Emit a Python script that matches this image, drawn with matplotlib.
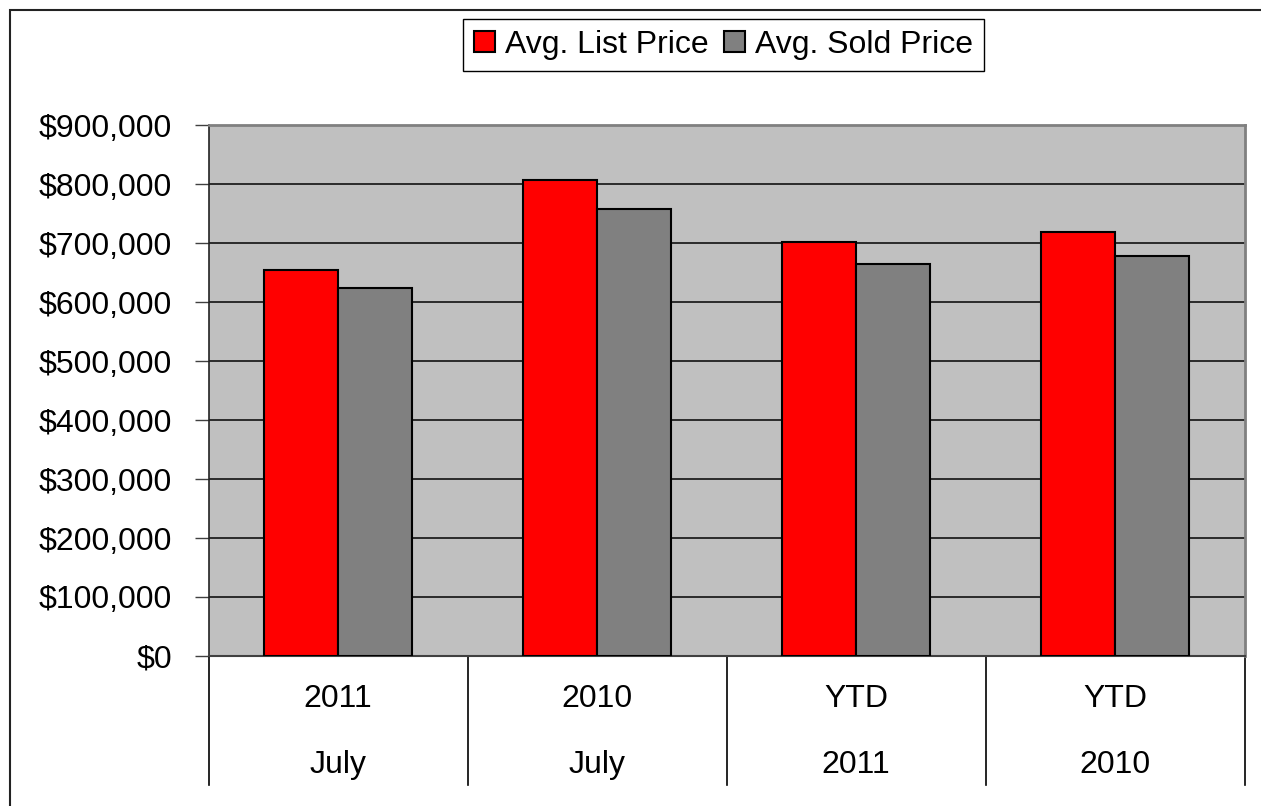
import matplotlib
matplotlib.use("Agg")
import matplotlib.pyplot as plt
from matplotlib.ticker import FuncFormatter
from matplotlib.patches import Rectangle
import matplotlib.transforms as mtransforms

plt.rcParams['font.family'] = ['Liberation Sans', 'DejaVu Sans']

top_labels = ['2011', '2010', 'YTD', 'YTD']
bottom_labels = ['July', 'July', '2011', '2010']
list_price = [654000, 807000, 701000, 719000]
sold_price = [623000, 757000, 664000, 678000]
series_names = ['Avg. List Price', 'Avg. Sold Price']
y_ticks = list(range(0, 900001, 100000))

W, H = 1261, 806
fig = plt.figure(figsize=(W / 100, H / 100), dpi=100)
fig.patch.set_facecolor('white')

# outer frame (clipped at right and bottom)
fig.add_artist(Rectangle((10 / W, -0.05), 1.1, 1 - 10 / H + 0.05, transform=fig.transFigure,
                         fill=False, edgecolor='#222222', linewidth=1.5))

left, right, top, bottom = 208.7, 1244.5, 125, 656
ax = fig.add_axes([left / W, 1 - bottom / H, (right - left) / W, (bottom - top) / H])
ax.set_facecolor('#C0C0C0')

n = len(top_labels)
x = list(range(n))
w = 1 / 3.5
ax.bar([i - w / 2 for i in x], list_price, width=w, color='#FF0000', edgecolor='black',
       linewidth=1.5, label=series_names[0], zorder=3)
ax.bar([i + w / 2 for i in x], sold_price, width=w, color='#808080', edgecolor='black',
       linewidth=1.5, label=series_names[1], zorder=3)

FS = 23
ax.set_xlim(-0.5, n - 0.5)
ax.set_ylim(0, 900000)
ax.set_yticks(y_ticks)
ax.yaxis.set_major_formatter(FuncFormatter(lambda v, p: '${:,.0f}'.format(v)))
ax.tick_params(axis='y', length=10, width=1, color='#404040', pad=16.5, labelsize=FS)
ax.set_xticks([])
ax.grid(axis='y', color='#111111', linewidth=1.2, zorder=1)

for s in ['top', 'right']:
    ax.spines[s].set_color('#808080')
    ax.spines[s].set_linewidth(2)
ax.spines['left'].set_color('#222222')
ax.spines['left'].set_linewidth(1.2)
ax.spines['bottom'].set_color('#404040')
ax.spines['bottom'].set_linewidth(1.5)

trans = mtransforms.blended_transform_factory(ax.transData, ax.transAxes)
row1 = (bottom - 699) / (bottom - top)
row2 = (bottom - 765) / (bottom - top)
div_end = (bottom - 785) / (bottom - top)
for i in x:
    ax.text(i, row1, top_labels[i], transform=trans, ha='center', va='center', fontsize=FS)
    ax.text(i, row2, bottom_labels[i], transform=trans, ha='center', va='center', fontsize=FS)
for b in [i - 0.5 for i in range(n + 1)]:
    ax.plot([b, b], [0, div_end], transform=trans, color='black', linewidth=1.2, clip_on=False)

leg = fig.legend(loc='center', bbox_to_anchor=(723.5 / W, 1 - 45 / H), ncol=2, fontsize=FS,
                 frameon=True, fancybox=False, edgecolor='black', framealpha=1,
                 handlelength=0.65, handleheight=0.65, handletextpad=0.3, columnspacing=0.5,
                 borderpad=0.35, borderaxespad=0)
leg.get_frame().set_linewidth(1)

fig.savefig('out.png', dpi=100)
